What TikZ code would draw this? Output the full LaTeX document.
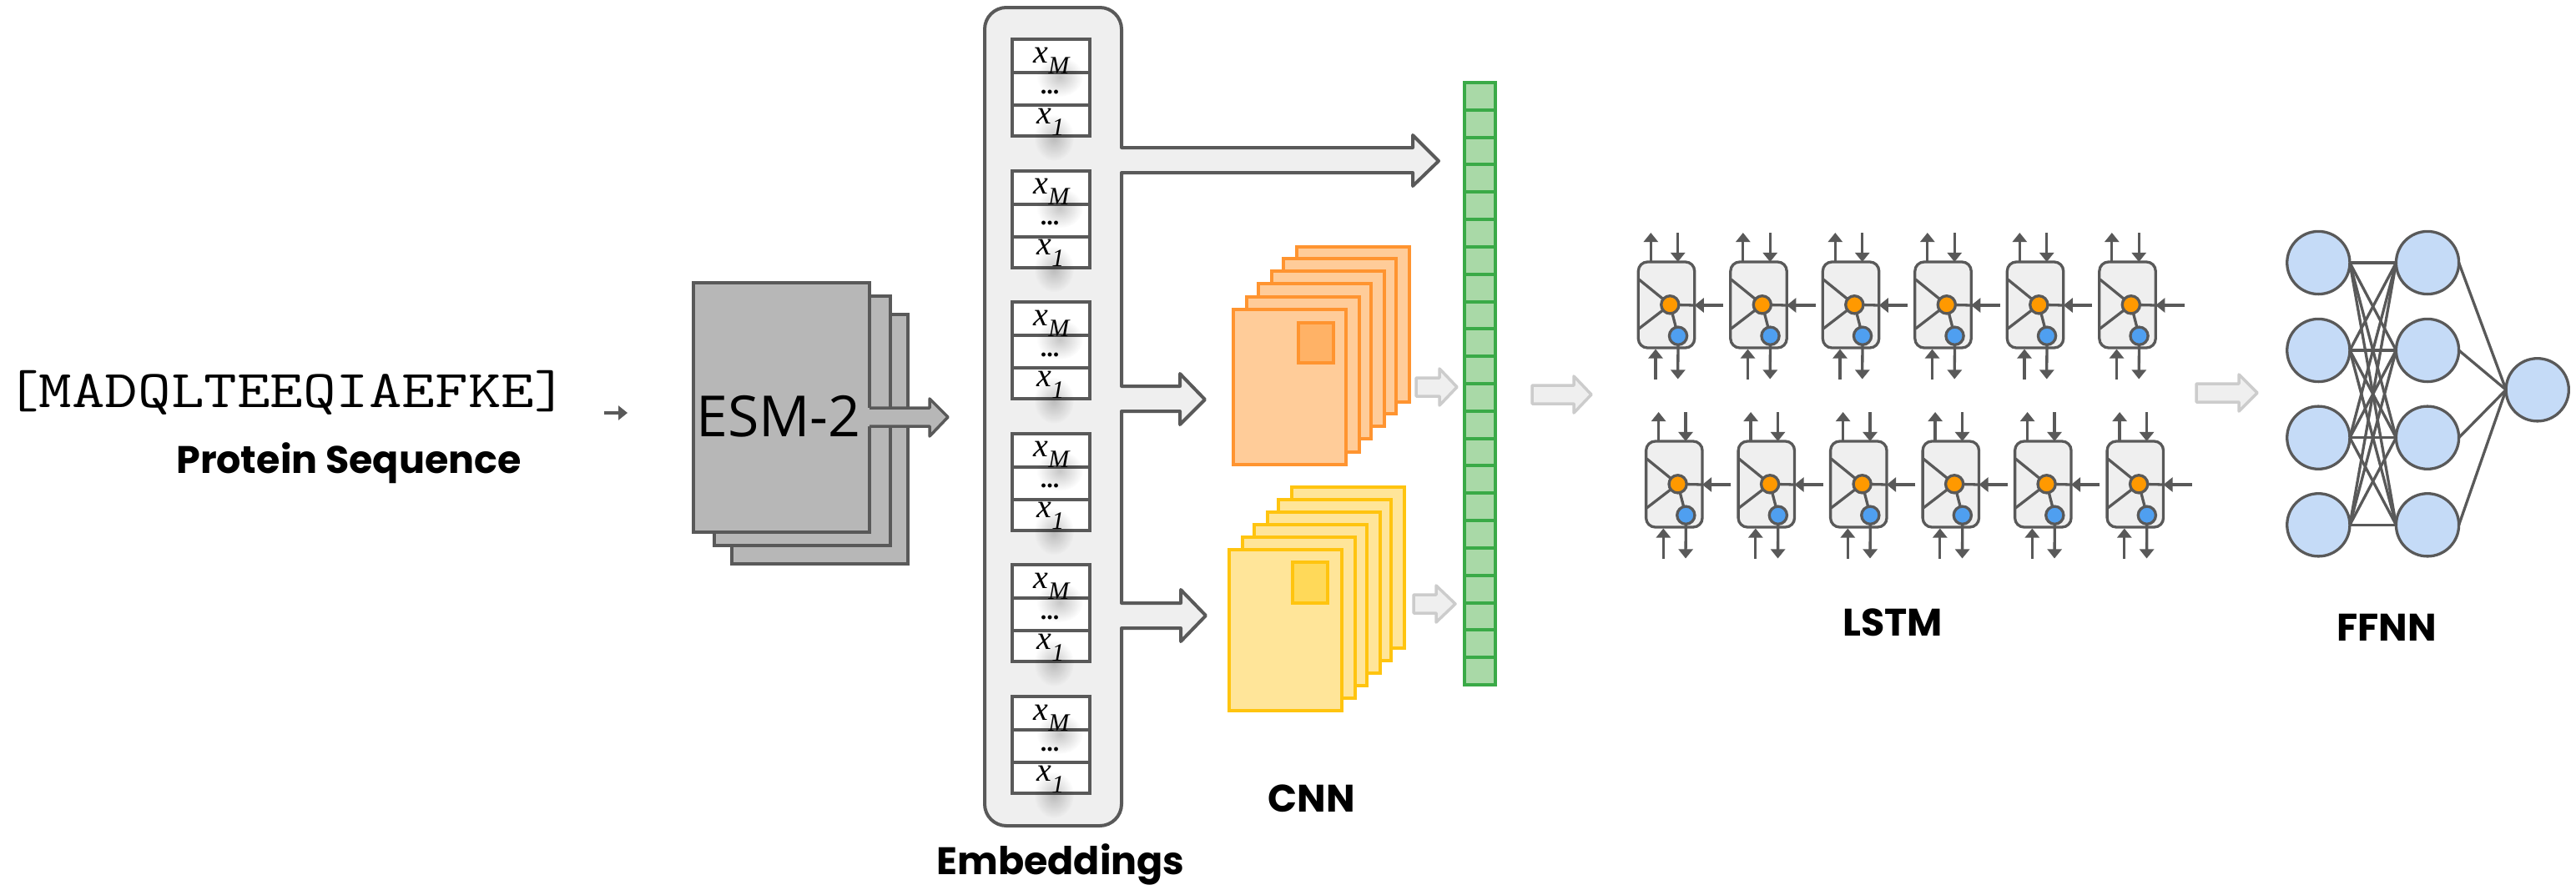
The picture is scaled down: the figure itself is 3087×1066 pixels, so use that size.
\documentclass[tikz,border=0pt]{standalone}
\usepackage{fontspec}
\usepackage{graphicx}
\setmainfont{Liberation Serif}
\newfontfamily\labelfont{Poppins}
\newfontfamily\esmfont{Open Sans}
\usetikzlibrary{arrows.meta,calc,fadings}
\definecolor{ink}{HTML}{595959}
\definecolor{paleg}{HTML}{EFEFEF}
\definecolor{midg}{HTML}{B7B7B7}
\definecolor{softg}{HTML}{CCCCCC}
\definecolor{orS}{HTML}{FF9430}
\definecolor{orF}{HTML}{FFCC99}
\definecolor{orI}{HTML}{FFB266}
\definecolor{yeS}{HTML}{FFC40F}
\definecolor{yeF}{HTML}{FFE599}
\definecolor{yeI}{HTML}{FFD959}
\definecolor{grS}{HTML}{3AAA47}
\definecolor{grF}{HTML}{A9D9A7}
\definecolor{lsO}{HTML}{FF9900}
\definecolor{lsB}{HTML}{4F9FF0}
\definecolor{nnF}{HTML}{C5DBF7}
\tikzfading[name=glowfade, inner color=transparent!78, outer color=transparent!100]
\tikzset{
  every node/.style={inner sep=0pt,outer sep=0pt},
  title/.style={font=\labelfont\bfseries\fontsize{23}{23}\selectfont,anchor=base,text=black},
  emcell/.style={draw=ink,fill=white,line width=2pt,minimum width=46.5pt},
  emtext/.style={anchor=base,text=black},
  sheet/.style={rectangle,minimum width=67.5pt,minimum height=93pt,anchor=north west,line width=1.75pt},
  orsheet/.style={sheet,draw=orS,fill=orF},
  yesheet/.style={sheet,draw=yeS,fill=yeF,minimum height=96.5pt},
  esmsheet/.style={rectangle,draw=ink,fill=midg,line width=1.75pt,minimum width=105.5pt,minimum height=149.5pt,anchor=north west},
  gcell/.style={draw=grS,fill=grF,line width=2pt,minimum width=18.5pt,minimum height=16.41pt},
  softarrow/.style={draw=softg,fill=paleg,line width=1.75pt,line join=round},
  lsbox/.style={draw=ink,fill=paleg,line width=1.65pt,rounded corners=5.5pt,minimum width=33.7pt,minimum height=51.5pt},
  lsorange/.style={circle,draw=ink,fill=lsO,line width=1.65pt,minimum size=10.6pt},
  lsblue/.style={circle,draw=ink,fill=lsB,line width=1.65pt,minimum size=10.6pt},
  lsline/.style={draw=ink,line width=1.65pt},
  lsarrow/.style={lsline,-{Triangle[width=8.6pt,length=5.6pt]}},
  neuron/.style={circle,draw=ink,fill=nnF,line width=1.65pt,minimum size=37.6pt},
  synapse/.style={draw=ink,line width=1.65pt},
}
% block arrow: x0, base x, tip x, centre y, body half, head half
\newcommand{\softblock}[6]{%
  \path[softarrow] (#1,#4-#5) -- (#2,#4-#5) -- (#2,#4-#6) -- (#3,#4) -- (#2,#4+#6) -- (#2,#4+#5) -- (#1,#4+#5) -- cycle;}
\begin{document}
\begin{tikzpicture}[x=0.5pt,y=-0.5pt]
\useasboundingbox (0,0) rectangle (3087,1066);
\fill[white] (0,0) rectangle (3087,1066);

% sequence
\node[emtext,font=\ttfamily\fontsize{38.4}{38.4}\selectfont] (seq) at (343.5,488) {\scalebox{1}[0.83]{[MADQLTEEQIAEFKE]}};
\node[title] (seqlabel) at (418,567) {Protein Sequence};
\coordinate (smallA) at (724,495);
\coordinate (smallB) at (752,495);
\draw[draw=ink,line width=2pt,-{Triangle[width=8.5pt,length=5.5pt]}] (smallA) -- (smallB);

% ESM-2
\node[esmsheet] (esm3) at (877,377) {};
\node[esmsheet] (esm2) at (856,355) {};
\node[esmsheet] (esm1) at (831,339) {};
\path[fill=midg] (1040,489) -- (1114,489) -- (1114,478) -- (1136,500) -- (1114,523) -- (1114,511) -- (1040,511) -- cycle;
\draw[draw=ink,line width=1.75pt,line join=round] (1042,489) -- (1114,489) -- (1114,478) -- (1136,500) -- (1114,523) -- (1114,511) -- (1042,511);
\node[anchor=base,text=black,font=\esmfont\fontsize{34}{34}\selectfont] (esmtext) at (933,523) {ESM-2};

% embeddings panel with its three arrows
\path[draw=ink,fill=paleg,line width=2pt,line join=round]
  (1180,120) [rounded corners=13pt] -- (1180,9) -- (1344,9) [sharp corners]
  -- (1344,177) -- (1693,177) -- (1693,162) -- (1724,193) -- (1693,223) -- (1693,207) -- (1344,207)
  -- (1344,463) -- (1414,463) -- (1414,448) -- (1444,479) -- (1414,509) -- (1414,493) -- (1344,493)
  -- (1344,723) -- (1415,723) -- (1415,707) -- (1445,738) -- (1415,769) -- (1415,753) -- (1344,753)
  [rounded corners=13pt] -- (1344,990) -- (1180,990) [sharp corners] -- cycle;

\foreach \i/\y in {1/47,2/204.5,3/362,4/519.5,5/677,6/835}{
  \node[emcell,minimum height=20pt,anchor=north] (top\i) at (1259.5,\y) {};
  \node[emcell,minimum height=19.5pt,anchor=north] (mid\i) at (1259.5,\y+40) {};
  \node[emcell,minimum height=18.5pt,anchor=north] (bot\i) at (1259.5,\y+79) {};
  \fill[black,path fading=glowfade] (1270,\y+45) ellipse (28 and 24);
  \fill[black,path fading=glowfade] (1263,\y+118) ellipse (24 and 28);
  \node[emtext] (xm\i) at (1260,\y+28) {\fontsize{20}{20}\selectfont\itshape x\raisebox{-6.5pt}{\fontsize{15}{15}\selectfont M}};
  \node[emtext] (dots\i) at (1258,\y+65) {\fontsize{15}{15}\selectfont\bfseries ...};
  \node[emtext] (xo\i) at (1259,\y+101) {\fontsize{20}{20}\selectfont\itshape x\raisebox{-7pt}{\fontsize{15}{15}\selectfont 1}};
}
\node[title] (emblabel) at (1271,1048) {Embeddings};

% orange CNN
\foreach \n/\x/\y in {6/1554/296,5/1538/310,4/1524/325,3/1508/340,2/1494/356,1/1478/371}{
  \node[orsheet] (or\n) at (\x,\y) {};
}
\node[rectangle,draw=orS,fill=orI,line width=1.75pt,minimum width=21pt,minimum height=24pt,anchor=north west] (orin) at (1556,387) {};
% yellow CNN
\foreach \n/\x/\y in {6/1548/584,5/1532/599,4/1519/614,3/1503/629,2/1489/644,1/1473/659}{
  \node[yesheet] (ye\n) at (\x,\y) {};
}
\node[rectangle,draw=yeS,fill=yeI,line width=1.75pt,minimum width=21pt,minimum height=24.5pt,anchor=north west] (yein) at (1549,674) {};
\node[title] (cnnlabel) at (1572,973) {CNN};

% soft arrows
\softblock{1697}{1725}{1746}{464}{11}{22}
\softblock{1694}{1721}{1744}{724}{11}{22}
\softblock{1836}{1886}{1907}{473}{11}{22}
\softblock{2632}{2683}{2705}{471}{11}{22}

% green vector
\foreach \k in {0,...,21}{
  \node[gcell,anchor=north] (g\k) at (1773,{99+\k*32.82}) {};
}

% LSTM
\foreach \r/\ox/\oy in {A/0/0,B/9.3/215}{
  \foreach \c in {0,...,5}{
    \begin{scope}[shift={({\ox+\c*110.5},\oy)}]
      \node[lsbox] (box\r\c) at (1997,365.5) {};
      \node[lsorange] (o\r\c) at (2001.3,365.3) {};
      \node[lsblue] (b\r\c) at (2011,402.7) {};
      \coordinate (t1\r\c) at (1964,335);
      \coordinate (t2\r\c) at (1964,394);
      \coordinate (in\r\c) at (2065,366);
      \coordinate (edge\r\c) at (2030.7,366);
      \coordinate (up\r\c) at (1978.3,279);
      \coordinate (upbase\r\c) at (1978.3,314);
      \coordinate (dn\r\c) at (2010.7,279);
      \coordinate (dnend\r\c) at (2010.7,314);
      \coordinate (bu\r\c) at (1984,454.5);
      \coordinate (buend\r\c) at (1984,418.5);
      \coordinate (bd\r\c) at (2010.7,454.5);
      \draw[lsline] (t1\r\c) -- (o\r\c);
      \draw[lsline] (t2\r\c) -- (o\r\c);
      \draw[lsline] (o\r\c) -- (b\r\c);
      \draw[lsline] (o\r\c) -- (edge\r\c);
      \draw[lsarrow] (in\r\c) -- (edge\r\c);
      \draw[lsarrow] (upbase\r\c) -- (up\r\c);
      \draw[lsarrow] (dn\r\c) -- (dnend\r\c);
      \draw[lsarrow] (bu\r\c) -- (buend\r\c);
      \draw[lsarrow] (b\r\c) -- (bd\r\c);
    \end{scope}
  }
}
\node[title] (lstmlabel) at (2268,762) {LSTM};

% FFNN
\foreach \i/\y in {1/315,2/420,3/524.7,4/629.3}{
  \node[neuron] (n\i) at (2778.3,\y) {};
  \node[neuron] (m\i) at (2909,\y) {};
}
\node[neuron] (out) at (3040.7,467.3) {};
\foreach \i in {1,...,4}{
  \foreach \j in {1,...,4}{
    \draw[synapse] (n\i.east) -- (m\j.west);
  }
  \draw[synapse] (m\i.east) -- (out.west);
}
\node[title] (ffnnlabel) at (2860,768) {FFNN};
\end{tikzpicture}
\end{document}
